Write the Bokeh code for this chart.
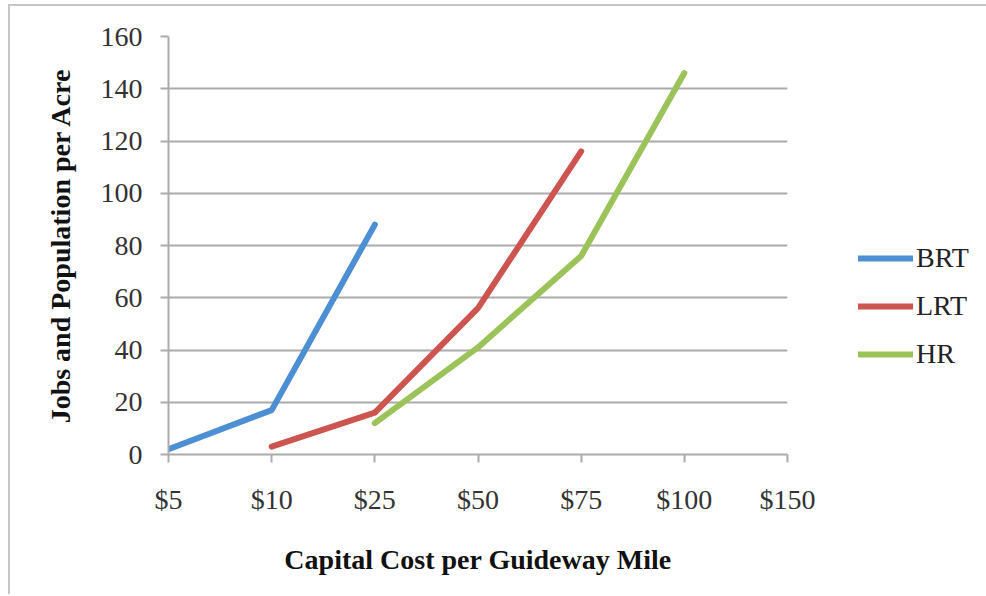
from bokeh.plotting import figure
from bokeh.models import FixedTicker, Legend, LegendItem, Range1d
from bokeh.embed import file_html
from bokeh.resources import INLINE

costs = ["$5", "$10", "$25", "$50", "$75", "$100", "$150"]
brt_cost = ["$5", "$10", "$25"]
brt_vals = [2, 17, 88]
lrt_cost = ["$10", "$25", "$50", "$75"]
lrt_vals = [3, 16, 56, 116]
hr_cost = ["$25", "$50", "$75", "$100"]
hr_vals = [12, 41, 76, 146]
y_ticks = [0, 20, 40, 60, 80, 100, 120, 140, 160]

FONT = "Liberation Serif"
GRID = "#ababab"

p = figure(width=975, height=588, output_backend="svg", toolbar_location=None,
           frame_width=619, frame_height=418,
           min_border_left=158, min_border_top=30, min_border_right=198, min_border_bottom=140,
           x_range=Range1d(0, len(costs) - 1), y_range=Range1d(0, 160))
p.styles = {"border-top": "2px solid #c6c6c6", "border-left": "2px solid #c6c6c6",
            "margin-top": "4px", "margin-left": "8px"}
p.outline_line_color = None
p.background_fill_color = "white"
p.border_fill_color = "white"

idx = {c: i for i, c in enumerate(costs)}

series = [("BRT", brt_cost, brt_vals, "#4D8FD3"),
          ("LRT", lrt_cost, lrt_vals, "#CD5550"),
          ("HR", hr_cost, hr_vals, "#9BC35A")]
items = []
for name, cs, vs, col in series:
    r = p.line([idx[c] for c in cs], vs, line_color=col, line_width=6, line_cap="round", line_join="round")
    items.append(LegendItem(label=name, renderers=[r]))

p.xaxis.ticker = FixedTicker(ticks=list(range(len(costs))))
p.xaxis.major_label_overrides = {i: c for i, c in enumerate(costs)}
p.yaxis.ticker = FixedTicker(ticks=y_ticks)

for ax in (p.xaxis, p.yaxis):
    ax.axis_line_color = GRID
    ax.axis_line_width = 2
    ax.major_tick_line_color = GRID
    ax.major_tick_line_width = 2
    ax.major_tick_out = 8
    ax.major_tick_in = 0
    ax.minor_tick_line_color = None
    ax.major_label_text_font = FONT
    ax.major_label_text_font_size = "28px"
    ax.major_label_text_color = "#333333"
    ax.axis_label_text_font = FONT
    ax.axis_label_text_font_size = "28px"
    ax.axis_label_text_font_style = "bold"
    ax.axis_label_text_color = "#111111"

p.xaxis.axis_label = "Capital Cost per Guideway Mile"
p.yaxis.axis_label = "Jobs and Population per Acre"
p.xaxis.major_label_standoff = 21
p.xaxis.axis_label_standoff = 26
p.yaxis.major_label_standoff = 18
p.yaxis.axis_label_standoff = 22

p.xgrid.grid_line_color = None
p.ygrid.grid_line_color = GRID
p.ygrid.grid_line_width = 2

legend = Legend(items=items, location=(71, 84), orientation="vertical",
                glyph_width=55, glyph_height=30, label_height=30, label_standoff=3,
                spacing=16, padding=0, margin=0,
                border_line_color=None, background_fill_alpha=0,
                label_text_font=FONT, label_text_font_size="28px", label_text_color="#222222")
p.add_layout(legend, "right")

open("out.html", "w").write(file_html(p, INLINE))
